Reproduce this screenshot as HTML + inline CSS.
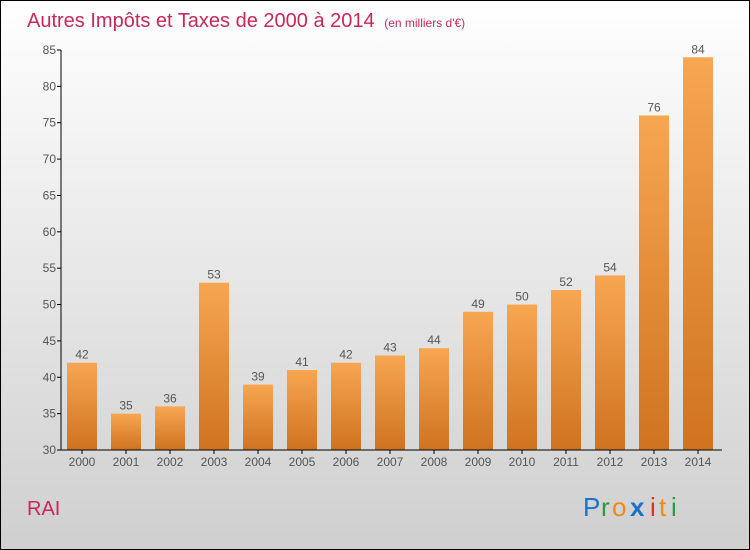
<!DOCTYPE html>
<html><head><meta charset="utf-8"><style>
body{margin:0}
#c{width:750px;height:550px;position:relative;overflow:hidden}
</style></head><body>
<div id="c">
<svg width="750" height="550" xmlns="http://www.w3.org/2000/svg">
<defs>
<linearGradient id="bg" x1="0" y1="0" x2="0" y2="1"><stop offset="0" stop-color="#ffffff"/><stop offset="1" stop-color="#cfcfcf"/></linearGradient>
<linearGradient id="bar" x1="0" y1="0" x2="0" y2="1"><stop offset="0" stop-color="#f7a652"/><stop offset="1" stop-color="#cf731f"/></linearGradient>
</defs>
<rect x="0.5" y="0.5" width="749" height="549" fill="url(#bg)" stroke="#000"/>
<text x="27" y="27" font-family="Liberation Sans, sans-serif" font-size="20" fill="#c8285a">Autres Impôts et Taxes de 2000 à 2014 <tspan font-size="12" dx="4">(en milliers d'€)</tspan></text>
<g id="bars"></g>
<g id="axes"></g>
<text x="27" y="515" font-family="Liberation Sans, sans-serif" font-size="20" fill="#c8285a">RAI</text>
<g font-family="Liberation Sans, sans-serif" font-size="26">
<text x="583" y="516" fill="#1a73c8">P</text><text x="601" y="516" fill="#2a9a3a">r</text><text x="612" y="516" fill="#f08a10">o</text><text x="630" y="516" fill="#1a73c8" font-weight="bold">x</text><text x="650" y="516" fill="#e0301e">i</text><text x="659" y="516" fill="#f08a10">t</text><text x="671" y="516" fill="#2a9a3a">i</text>
</g>
</svg>
</div>
<script>
const years=["2000","2001","2002","2003","2004","2005","2006","2007","2008","2009","2010","2011","2012","2013","2014"];
const values=[42,35,36,53,39,41,42,43,44,49,50,52,54,76,84];
const yTicks=[30,35,40,45,50,55,60,65,70,75,80,85];
const NS="http://www.w3.org/2000/svg";
const y0=450,y1=50,vmin=30,vmax=85,xl=61;
function y(v){return y0-(v-vmin)/(vmax-vmin)*(y0-y1);}
function x(i){return 82+i*44;}
function mk(t,a,p){const e=document.createElementNS(NS,t);for(const k in a)e.setAttribute(k,a[k]);p.appendChild(e);return e;}
const b=document.getElementById('bars'),ax=document.getElementById('axes');
yTicks.forEach(v=>{
 const t=mk('line',{x1:xl-4,x2:xl,y1:y(v),y2:y(v),stroke:'#000'},ax);
 
 
 const tx=mk('text',{x:xl-5,y:y(v)+4,'text-anchor':'end','font-family':'Liberation Sans, sans-serif','font-size':12,fill:'#555'},ax);
 tx.textContent=v;
 
 
});
values.forEach((v,i)=>{
 const r=mk('rect',{x:x(i)-15,y:y(v),width:30,height:y0-y(v),fill:'url(#bar)'},b);
 
 
 const vt=mk('text',{x:x(i),y:y(v)-4,'text-anchor':'middle','font-family':'Liberation Sans, sans-serif','font-size':12,fill:'#555'},b);
 vt.textContent=v;
 
 
 const tk=mk('line',{x1:x(i),x2:x(i),y1:y0,y2:y0+4,stroke:'#000'},ax);
 
 
 const xt=mk('text',{x:x(i),y:y0+16,'text-anchor':'middle','font-family':'Liberation Sans, sans-serif','font-size':12,fill:'#555'},ax);
 xt.textContent=years[i];
 
 
});
const ya=mk('line',{x1:xl,x2:xl,y1:y1,y2:y0,stroke:'#000'},ax);


const xa=mk('line',{x1:xl,x2:722,y1:y0,y2:y0,stroke:'#000'},ax);


</script>
</body></html>
